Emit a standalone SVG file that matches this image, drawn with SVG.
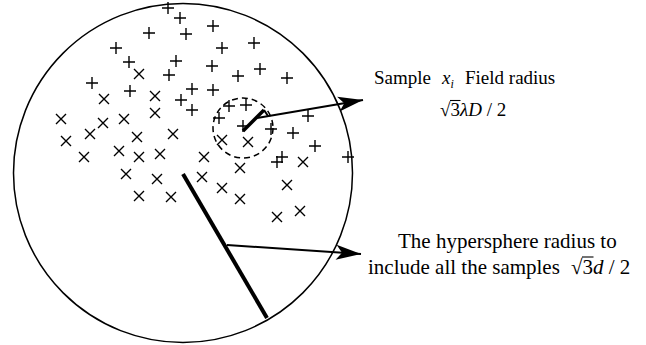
<svg xmlns="http://www.w3.org/2000/svg" xmlns:xlink="http://www.w3.org/1999/xlink" width="646" height="345" viewBox="0 0 646 345">
<style>
.mk{stroke:#000;stroke-width:1.4;fill:none}
.t{font-family:"Liberation Serif","Times New Roman",serif;font-size:21px;fill:#000}
.s{font-size:19px}
.it{font-style:italic}
.thin{stroke:#000;stroke-width:2;fill:none}
.bar{stroke:#000;stroke-width:1.1}
</style>
<defs>
<path id="p" class="mk" d="M-6,0H6M0,-6V6"/>
<path id="x" class="mk" d="M-5,-5L5,5M-5,5L5,-5"/>
<marker id="ah" markerUnits="userSpaceOnUse" viewBox="-27 -9 29 18" markerWidth="29" markerHeight="18" refX="0" refY="0" orient="auto">
<path d="M0,0L-25,-7.5L-19,0L-25,7.5Z" fill="#000"/>
</marker>
</defs>
<rect width="646" height="345" fill="#fff"/>
<g id="hypersphere">
<circle cx="183" cy="173" r="169.5" fill="none" stroke="#000" stroke-width="1.5"/>
</g>
<g id="plus-samples">
<use href="#p" x="168" y="8"/><use href="#p" x="180" y="18"/><use href="#p" x="149" y="33"/><use href="#p" x="186" y="34"/>
<use href="#p" x="116" y="48"/><use href="#p" x="129" y="62"/><use href="#p" x="176" y="61"/><use href="#p" x="169" y="75"/>
<use href="#p" x="92" y="83"/><use href="#p" x="130" y="91"/><use href="#p" x="192" y="89"/><use href="#p" x="181" y="100"/>
<use href="#p" x="192" y="110"/><use href="#p" x="213" y="26"/><use href="#p" x="222" y="48"/><use href="#p" x="254" y="43"/>
<use href="#p" x="212" y="66"/><use href="#p" x="238" y="76"/><use href="#p" x="260" y="69"/><use href="#p" x="287" y="78"/>
<use href="#p" x="213" y="90"/><use href="#p" x="229" y="106"/><use href="#p" x="246" y="105"/><use href="#p" x="308" y="116"/>
<use href="#p" x="219" y="118"/><use href="#p" x="243" y="126"/><use href="#p" x="271" y="129"/><use href="#p" x="293" y="133"/>
<use href="#p" x="315" y="146"/><use href="#p" x="348" y="157"/><use href="#p" x="277" y="162"/><use href="#p" x="282" y="157"/>
</g>
<g id="cross-samples">
<use href="#x" x="139" y="74"/><use href="#x" x="104" y="99"/><use href="#x" x="155" y="96"/><use href="#x" x="155" y="113"/>
<use href="#x" x="61" y="119"/><use href="#x" x="66" y="141"/><use href="#x" x="90" y="134"/><use href="#x" x="103" y="123"/>
<use href="#x" x="124" y="119"/><use href="#x" x="137" y="137"/><use href="#x" x="173" y="134"/><use href="#x" x="84" y="157"/>
<use href="#x" x="119" y="151"/><use href="#x" x="139" y="157"/><use href="#x" x="160" y="154"/><use href="#x" x="126" y="174"/>
<use href="#x" x="157" y="179"/><use href="#x" x="139" y="196"/><use href="#x" x="171" y="197"/><use href="#x" x="222" y="140"/>
<use href="#x" x="248" y="142"/><use href="#x" x="204" y="157"/><use href="#x" x="240" y="168"/><use href="#x" x="202" y="177"/>
<use href="#x" x="222" y="188"/><use href="#x" x="240" y="199"/><use href="#x" x="287" y="185"/><use href="#x" x="303" y="162"/>
<use href="#x" x="277" y="217"/><use href="#x" x="300" y="211"/>
</g>
<g id="field">
<circle cx="243" cy="128" r="30" fill="none" stroke="#000" stroke-width="1.5" stroke-dasharray="6 4"/>
<path d="M243,131L264,110" stroke="#000" stroke-width="3.5" fill="none"/>
<path d="M264,110L268,116" stroke="#000" stroke-width="2" fill="none"/>
</g>
<g id="radius">
<path d="M183,174L267,318" stroke="#000" stroke-width="4" fill="none"/>
</g>
<g id="connectors">
<path class="thin" d="M257,118L363,100" marker-end="url(#ah)"/>
<path class="thin" d="M227,245L361,254" marker-end="url(#ah)"/>
</g>
<g id="label-field">
<text class="t s" x="374" y="84">Sample</text>
<text class="t s it" x="442" y="84">x<tspan font-size="12" dy="4">i</tspan></text>
<text class="t s" x="465" y="84">Field radius</text>
<text class="t s" x="440" y="116">√</text>
<text class="t s" x="450.5" y="116">3<tspan class="it">λD</tspan> / 2</text>
<path class="bar" d="M450,100.5H460.5"/>
</g>
<g id="label-radius">
<text class="t" x="398" y="248">The hypersphere radius to</text>
<text class="t" x="368" y="274">include all the samples</text>
<text class="t" x="571" y="274">√</text>
<text class="t" x="582.5" y="274">3<tspan class="it">d</tspan> / 2</text>
<path class="bar" d="M582,257H593.5"/>
</g>
</svg>
